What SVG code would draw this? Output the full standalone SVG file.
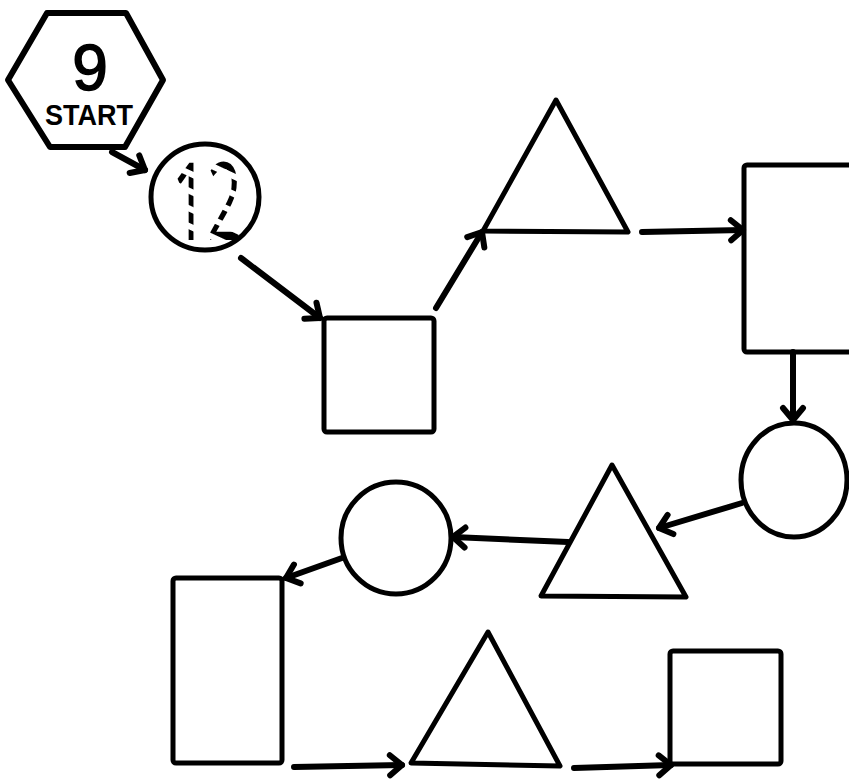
<svg xmlns="http://www.w3.org/2000/svg" width="849" height="779" viewBox="0 0 849 779">
<style>
.s{fill:none;stroke:#000;stroke-width:5;stroke-linejoin:round;stroke-linecap:round}
.c{fill:none;stroke:#000;stroke-width:6;stroke-linecap:round}
</style>
<defs>
<marker id="ah" markerUnits="userSpaceOnUse" markerWidth="40" markerHeight="40" refX="0" refY="0" viewBox="-20 -20 40 40" orient="auto">
<path d="M-12,-10 L0,0 L-12,10" fill="none" stroke="#000" stroke-width="6" stroke-linecap="round" stroke-linejoin="round"/>
</marker>
<pattern id="stripes" patternUnits="userSpaceOnUse" width="16" height="16" patternTransform="rotate(25)">
<rect width="16" height="10" fill="#fff"/>
</pattern>
<mask id="dash" maskUnits="userSpaceOnUse" x="0" y="0" width="849" height="779">
<rect x="0" y="0" width="849" height="779" fill="url(#stripes)"/>
</mask>
</defs>
<rect width="849" height="779" fill="#fff"/>
<g id="start">
<polygon class="s" style="stroke-width:6" points="47,13 126,13 163,80 125,147 50,147 8,80"/>
<text x="90" y="90" font-family="Liberation Sans, sans-serif" font-size="64" text-anchor="middle" stroke="#000" stroke-width="1.5">9</text>
<text x="45" y="125" font-family="Liberation Sans, sans-serif" font-weight="bold" font-size="30" textLength="88" lengthAdjust="spacingAndGlyphs">START</text>
</g>
<g id="c12">
<ellipse class="s" cx="205" cy="197" rx="54" ry="53"/>
<text x="172" y="240" font-family="Open Sans, sans-serif" font-size="108" textLength="70" lengthAdjust="spacingAndGlyphs" mask="url(#dash)">12</text>
</g>
<g id="sq1"><rect class="s" x="324" y="318" width="110" height="114" rx="3"/></g>
<g id="tri1"><polygon class="s" points="556,100 628,232 483,231"/></g>
<g id="rect1"><rect class="s" x="744" y="165" width="130" height="187" rx="3"/></g>
<g id="circ1"><ellipse class="s" cx="794" cy="480" rx="53" ry="57"/></g>
<g id="tri2"><polygon class="s" points="612,465 686,597 541,596"/></g>
<g id="circ2"><ellipse class="s" cx="396" cy="538" rx="55" ry="56"/></g>
<g id="rect2"><rect class="s" x="173" y="578" width="109" height="185" rx="3"/></g>
<g id="tri3"><polygon class="s" points="488,632 560,766 411,763"/></g>
<g id="sq3"><rect class="s" x="670" y="651" width="111" height="113" rx="3"/></g>
<g id="connectors">
<line class="c" x1="112" y1="152" x2="145" y2="170" marker-end="url(#ah)"/>
<line class="c" x1="241" y1="258" x2="320" y2="318" marker-end="url(#ah)"/>
<line class="c" x1="436" y1="308" x2="482" y2="232" marker-end="url(#ah)"/>
<line class="c" x1="642" y1="232" x2="743" y2="230" marker-end="url(#ah)"/>
<line class="c" x1="793" y1="352" x2="793" y2="420" marker-end="url(#ah)"/>
<line class="c" x1="742" y1="503" x2="659" y2="528" marker-end="url(#ah)"/>
<line class="c" x1="568" y1="542" x2="453" y2="537" marker-end="url(#ah)"/>
<line class="c" x1="342" y1="558" x2="286" y2="578" marker-end="url(#ah)"/>
<line class="c" x1="294" y1="767" x2="402" y2="765" marker-end="url(#ah)"/>
<line class="c" x1="574" y1="768" x2="671" y2="765" marker-end="url(#ah)"/>
</g>
</svg>
